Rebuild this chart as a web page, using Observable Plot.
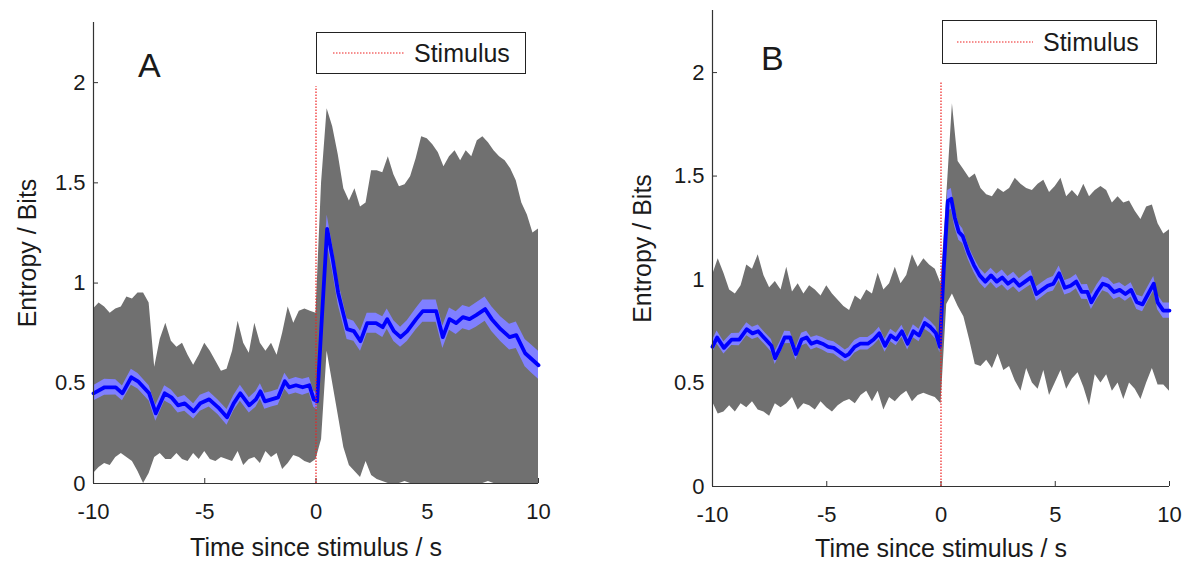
<!DOCTYPE html>
<html>
<head>
<meta charset="utf-8">
<script src="https://cdn.jsdelivr.net/npm/d3@7"></script>
<script src="https://cdn.jsdelivr.net/npm/@observablehq/plot@0.6"></script>
<style>
html, body { margin: 0; padding: 0; background: #fff; }
#wrap { position: relative; width: 1192px; height: 565px; overflow: hidden; font-family: "Liberation Sans", Arial, Helvetica, sans-serif; color: #1a1a1a; }
.panel { position: absolute; top: 0; }
.legend { position: absolute; box-sizing: border-box; border: 1.5px solid #222; background: #fff; display: flex; align-items: center; font-size: 25px; }
.legend svg { flex: none; }
.letter { position: absolute; font-size: 34px; line-height: 34px; }
</style>
</head>
<body>
<div id="wrap"></div>
<script>
// ---------- shared ----------
const xTicks = [-10, -5, 0, 5, 10];
const yTicks = [0, 0.5, 1, 1.5, 2];
const xDomain = [-10, 10];
const yDomain = [0, 2.3];
const xLabel = "Time since stimulus / s";
const yLabel = "Entropy / Bits";
const legendLabel = "Stimulus";
const panelLetters = ["A", "B"];
const stimulusTime = [0];
const stimulusTopA = 1.98;
const stimulusTopB = 1.95;

// time grid for the grey (spread) band
const tGray = [-10, -9.75, -9.5, -9.25, -9, -8.75, -8.5, -8.25, -8, -7.75,
  -7.5, -7.25, -7, -6.75, -6.5, -6.25, -6, -5.75, -5.5, -5.25,
  -5, -4.75, -4.5, -4.25, -4, -3.75, -3.5, -3.25, -3, -2.75,
  -2.5, -2.25, -2, -1.75, -1.5, -1.25, -1, -0.75, -0.5, -0.25,
  0, 0.25, 0.5, 0.75, 1, 1.25, 1.5, 1.75, 2, 2.25,
  2.5, 2.75, 3, 3.25, 3.5, 3.75, 4, 4.25, 4.5, 4.75,
  5, 5.25, 5.5, 5.75, 6, 6.25, 6.5, 6.75, 7, 7.25,
  7.5, 7.75, 8, 8.25, 8.5, 8.75, 9, 9.25, 9.5, 9.75, 10];

// ---------- panel A ----------
const grayUpperA = [0.87, 0.90, 0.88, 0.85, 0.87, 0.88, 0.93, 0.92, 0.95, 0.95,
  0.90, 0.58, 0.72, 0.80, 0.71, 0.68, 0.70, 0.64, 0.59, 0.64,
  0.70, 0.66, 0.61, 0.56, 0.57, 0.66, 0.81, 0.70, 0.65, 0.80,
  0.70, 0.66, 0.70, 0.64, 0.75, 0.88, 0.80, 0.86, 0.87, 0.86,
  0.85, 1.50, 1.87, 1.78, 1.64, 1.47, 1.41, 1.47, 1.38, 1.40,
  1.56, 1.56, 1.55, 1.63, 1.54, 1.48, 1.49, 1.53, 1.62, 1.73,
  1.72, 1.69, 1.65, 1.58, 1.63, 1.66, 1.61, 1.66, 1.63, 1.71,
  1.73, 1.70, 1.66, 1.63, 1.61, 1.57, 1.51, 1.40, 1.34, 1.25, 1.27];
const grayLowerA = [0.05, 0.08, 0.10, 0.09, 0.13, 0.15, 0.13, 0.11, 0.06, 0.00,
  0.05, 0.13, 0.15, 0.12, 0.12, 0.15, 0.12, 0.11, 0.15, 0.12,
  0.16, 0.12, 0.11, 0.13, 0.12, 0.11, 0.16, 0.09, 0.12, 0.13,
  0.10, 0.16, 0.13, 0.15, 0.07, 0.10, 0.14, 0.13, 0.11, 0.10,
  0.12, 0.22, 0.66, 0.50, 0.34, 0.18, 0.09, 0.06, 0.03, 0.11,
  0.04, 0.02, 0.01, 0, 0, 0, 0.01, 0, 0, 0,
  0, 0, 0, 0, 0, 0, 0, 0, 0, 0,
  0, 0.01, 0, 0, 0, 0, 0, 0, 0, 0, 0];
const timeA = [-10, -9.5, -9, -8.7, -8.3, -8, -7.5, -7.2, -6.8, -6.5,
  -6.2, -5.9, -5.5, -5.2, -4.8, -4.4, -4, -3.7, -3.4, -3,
  -2.7, -2.5, -2.3, -2, -1.7, -1.4, -1.2, -0.9, -0.6, -0.3,
  -0.1, 0.05, 0.25, 0.5, 0.75, 1, 1.4, 1.7, 2, 2.3,
  2.7, 3, 3.2, 3.5, 3.8, 4.1, 4.5, 4.8, 5.2, 5.4,
  5.7, 6, 6.3, 6.6, 6.9, 7.2, 7.6, 7.9, 8.3, 8.7,
  9, 9.4, 9.7, 10];
const meanA = [0.45, 0.48, 0.48, 0.45, 0.53, 0.51, 0.45, 0.35, 0.45, 0.43,
  0.39, 0.40, 0.36, 0.40, 0.42, 0.38, 0.33, 0.40, 0.45, 0.39,
  0.42, 0.46, 0.41, 0.42, 0.43, 0.51, 0.48, 0.49, 0.48, 0.49,
  0.42, 0.41, 0.80, 1.27, 1.12, 0.95, 0.77, 0.76, 0.71, 0.80,
  0.80, 0.78, 0.82, 0.76, 0.73, 0.76, 0.82, 0.86, 0.86, 0.86,
  0.73, 0.82, 0.80, 0.83, 0.82, 0.84, 0.87, 0.82, 0.77, 0.73,
  0.74, 0.65, 0.62, 0.59];
const semA = [0.038, 0.040, 0.038, 0.037, 0.040, 0.039, 0.038, 0.040, 0.038, 0.037,
  0.038, 0.039, 0.038, 0.040, 0.038, 0.037, 0.039, 0.038, 0.040, 0.038,
  0.039, 0.038, 0.040, 0.038, 0.039, 0.040, 0.038, 0.039, 0.040, 0.039,
  0.040, 0.042, 0.060, 0.070, 0.065, 0.060, 0.052, 0.050, 0.050, 0.050,
  0.050, 0.052, 0.050, 0.052, 0.050, 0.052, 0.053, 0.055, 0.055, 0.055,
  0.056, 0.056, 0.057, 0.058, 0.058, 0.060, 0.060, 0.062, 0.062, 0.064,
  0.066, 0.068, 0.070, 0.070];

// ---------- panel B ----------
const grayUpperB = [1.02, 1.10, 1.03, 0.95, 0.93, 0.97, 1.07, 1.05, 1.12, 1.02,
  0.96, 0.99, 0.95, 1.06, 0.94, 0.98, 0.93, 0.97, 0.95, 0.92,
  0.97, 0.93, 0.90, 0.87, 0.85, 0.92, 0.90, 0.95, 0.93, 1.03,
  0.95, 0.98, 1.06, 0.98, 1.02, 1.12, 1.06, 1.10, 1.07, 1.05,
  0.98, 1.40, 1.85, 1.57, 1.53, 1.49, 1.51, 1.44, 1.41, 1.40,
  1.44, 1.42, 1.44, 1.49, 1.46, 1.44, 1.43, 1.46, 1.48, 1.42,
  1.45, 1.49, 1.40, 1.43, 1.40, 1.46, 1.40, 1.43, 1.45, 1.43,
  1.37, 1.40, 1.37, 1.38, 1.33, 1.29, 1.35, 1.36, 1.27, 1.22, 1.24];
const grayLowerB = [0.41, 0.35, 0.36, 0.39, 0.36, 0.40, 0.38, 0.41, 0.37, 0.36,
  0.34, 0.40, 0.38, 0.40, 0.43, 0.37, 0.40, 0.39, 0.37, 0.41,
  0.38, 0.36, 0.39, 0.41, 0.42, 0.40, 0.44, 0.46, 0.41, 0.46,
  0.37, 0.43, 0.41, 0.44, 0.46, 0.41, 0.44, 0.45, 0.44, 0.43,
  0.40, 0.88, 0.93, 0.87, 0.82, 0.71, 0.59, 0.58, 0.61, 0.57,
  0.64, 0.56, 0.58, 0.51, 0.46, 0.57, 0.50, 0.47, 0.56, 0.44,
  0.50, 0.56, 0.47, 0.52, 0.55, 0.48, 0.39, 0.54, 0.50, 0.54,
  0.46, 0.50, 0.42, 0.50, 0.47, 0.42, 0.50, 0.57, 0.49, 0.49, 0.46];
const timeB = [-10, -9.8, -9.5, -9.16, -8.83, -8.5, -8.25, -8, -7.67, -7.42,
  -7.26, -7.04, -6.84, -6.6, -6.35, -6.1, -5.88, -5.68, -5.43, -5.19,
  -4.94, -4.69, -4.44, -4.19, -4.03, -3.78, -3.53, -3.2, -2.95, -2.7,
  -2.45, -2.2, -1.96, -1.71, -1.46, -1.21, -0.96, -0.71, -0.46, -0.22,
  -0.05, 0.12, 0.3, 0.45, 0.6, 0.78, 0.95, 1.2, 1.44, 1.69,
  1.94, 2.19, 2.44, 2.68, 2.93, 3.18, 3.43, 3.68, 3.93, 4.18,
  4.42, 4.67, 4.92, 5.17, 5.42, 5.67, 5.92, 6.16, 6.41, 6.58,
  6.83, 7.08, 7.32, 7.57, 7.82, 8.07, 8.32, 8.57, 8.82, 9.06,
  9.31, 9.48, 9.73, 10];
const meanB = [0.675, 0.72, 0.67, 0.71, 0.71, 0.76, 0.74, 0.75, 0.71, 0.68,
  0.62, 0.67, 0.72, 0.72, 0.64, 0.71, 0.72, 0.69, 0.70, 0.69,
  0.675, 0.67, 0.65, 0.63, 0.64, 0.675, 0.69, 0.69, 0.71, 0.74,
  0.68, 0.73, 0.71, 0.75, 0.69, 0.75, 0.73, 0.79, 0.77, 0.74,
  0.675, 1.05, 1.38, 1.39, 1.30, 1.23, 1.21, 1.13, 1.07, 1.02,
  0.99, 1.02, 0.99, 1.01, 0.98, 1.00, 0.97, 0.99, 1.01, 0.93,
  0.95, 0.97, 0.98, 1.03, 0.96, 0.97, 0.99, 0.94, 0.94, 0.89,
  0.94, 0.98, 0.97, 0.94, 0.95, 0.93, 0.95, 0.89, 0.88, 0.93,
  0.98, 0.89, 0.85, 0.85];
const semB = [0.030, 0.031, 0.030, 0.029, 0.030, 0.031, 0.030, 0.030, 0.029, 0.030,
  0.031, 0.030, 0.030, 0.029, 0.030, 0.031, 0.030, 0.030, 0.029, 0.030,
  0.031, 0.030, 0.030, 0.029, 0.030, 0.031, 0.030, 0.030, 0.029, 0.030,
  0.031, 0.030, 0.030, 0.029, 0.030, 0.031, 0.030, 0.030, 0.029, 0.030,
  0.030, 0.040, 0.050, 0.050, 0.045, 0.040, 0.036, 0.035, 0.035, 0.035,
  0.035, 0.034, 0.035, 0.036, 0.035, 0.035, 0.034, 0.035, 0.036, 0.035,
  0.035, 0.034, 0.035, 0.036, 0.035, 0.035, 0.034, 0.035, 0.036, 0.035,
  0.035, 0.034, 0.035, 0.036, 0.035, 0.035, 0.034, 0.035, 0.036, 0.035,
  0.035, 0.036, 0.037, 0.037];

const FONT = '"Liberation Sans", Arial, Helvetica, sans-serif';
const GRAY = "#707070", BAND = "#8080ff", BLUE = "#0000ff", RED = "#ee2020", AXIS = "#333";
const TICK = 5;

function panel(o) {
  const grayData = tGray.map((x, i) => ({x, hi: o.upper[i], lo: o.lower[i]}));
  const meanData = o.time.map((x, i) => ({x, m: o.mean[i], se: o.sem[i]}));
  const frameW = o.width - o.ml - o.mr;
  const frameH = 565 - o.mt - o.mb;
  return Plot.plot({
    width: o.width, height: 565,
    marginLeft: o.ml, marginRight: o.mr, marginTop: o.mt, marginBottom: o.mb,
    x: {domain: xDomain},
    y: {domain: yDomain},
    style: {fontFamily: FONT, fontSize: "22px", color: "#1a1a1a", background: "transparent", overflow: "visible"},
    marks: [
      // inward tick marks (beneath the data, as in MATLAB)
      Plot.tickX(xTicks, {x: d => d, insetTop: frameH - TICK, stroke: AXIS}),
      Plot.tickY(yTicks, {y: d => d, insetRight: frameW - TICK, stroke: AXIS}),
      Plot.areaY(grayData, {x: "x", y1: "lo", y2: "hi", fill: GRAY}),
      Plot.areaY(meanData, {x: "x", y1: d => d.m - d.se, y2: d => d.m + d.se, fill: BAND}),
      Plot.lineY(meanData, {x: "x", y: "m", stroke: BLUE, strokeWidth: 3.8, strokeLinejoin: "round"}),
      Plot.ruleX(stimulusTime, {y1: 0, y2: o.stimTop, stroke: RED, strokeWidth: 1.2, strokeDasharray: "1.5,1.5"}),
      Plot.ruleX([xDomain[0]], {y1: yDomain[0], y2: yDomain[1], stroke: AXIS, strokeWidth: 1.2}),
      Plot.ruleY([yDomain[0]], {x1: xDomain[0], x2: xDomain[1], stroke: AXIS, strokeWidth: 1.2}),
      Plot.axisX({ticks: xTicks, tickSize: 0, tickPadding: 20, tickFormat: d => String(d), label: null, fontSize: 22}),
      Plot.axisY({ticks: yTicks, tickSize: 0, tickPadding: 8, tickFormat: d => String(d), label: null, fontSize: 22}),
      Plot.text([xLabel], {text: d => d, frameAnchor: "bottom", dy: o.titleDy, lineAnchor: "middle", textAnchor: "middle", fontSize: 25}),
      Plot.text([yLabel], {text: d => d, frameAnchor: "left", rotate: -90, dx: o.titleDx, lineAnchor: "middle", textAnchor: "middle", fontSize: 25})
    ]
  });
}

const wrap = document.getElementById("wrap");

const plotA = panel({upper: grayUpperA, lower: grayLowerA, time: timeA, mean: meanA, sem: semA,
  stimTop: stimulusTopA, width: 600, ml: 93, mr: 62, mt: 22, mb: 82, titleDy: 64, titleDx: -66});
plotA.classList.add("panel");
plotA.style.left = "0px";
wrap.appendChild(plotA);

const plotB = panel({upper: grayUpperB, lower: grayLowerB, time: timeB, mean: meanB, sem: semB,
  stimTop: stimulusTopB, width: 592, ml: 112, mr: 23, mt: 10, mb: 79, titleDy: 62, titleDx: -70});
plotB.classList.add("panel");
plotB.style.left = "600px";
wrap.appendChild(plotB);

function legend(left, top, w, h, padL, lineLen, gap) {
  const div = document.createElement("div");
  div.className = "legend";
  Object.assign(div.style, {left: left + "px", top: top + "px", width: w + "px", height: h + "px", paddingLeft: padL + "px"});
  const ns = "http://www.w3.org/2000/svg";
  const svg = document.createElementNS(ns, "svg");
  svg.setAttribute("width", lineLen);
  svg.setAttribute("height", 4);
  const ln = document.createElementNS(ns, "line");
  ln.setAttribute("x1", 0); ln.setAttribute("x2", lineLen);
  ln.setAttribute("y1", 2); ln.setAttribute("y2", 2);
  ln.setAttribute("stroke", RED); ln.setAttribute("stroke-width", 1.2);
  ln.setAttribute("stroke-dasharray", "1.5,1.5");
  svg.appendChild(ln);
  div.appendChild(svg);
  const span = document.createElement("span");
  span.textContent = legendLabel;
  span.style.marginLeft = gap + "px";
  div.appendChild(span);
  wrap.appendChild(div);
}
legend(316, 32, 210, 42, 16, 72, 9);
legend(942, 20, 215, 44, 14, 76, 10);

function letter(text, left, top) {
  const d = document.createElement("div");
  d.className = "letter";
  d.textContent = text;
  Object.assign(d.style, {left: left + "px", top: top + "px"});
  wrap.appendChild(d);
}
letter(panelLetters[0], 138, 48);
letter(panelLetters[1], 761, 41);
</script>
</body>
</html>
